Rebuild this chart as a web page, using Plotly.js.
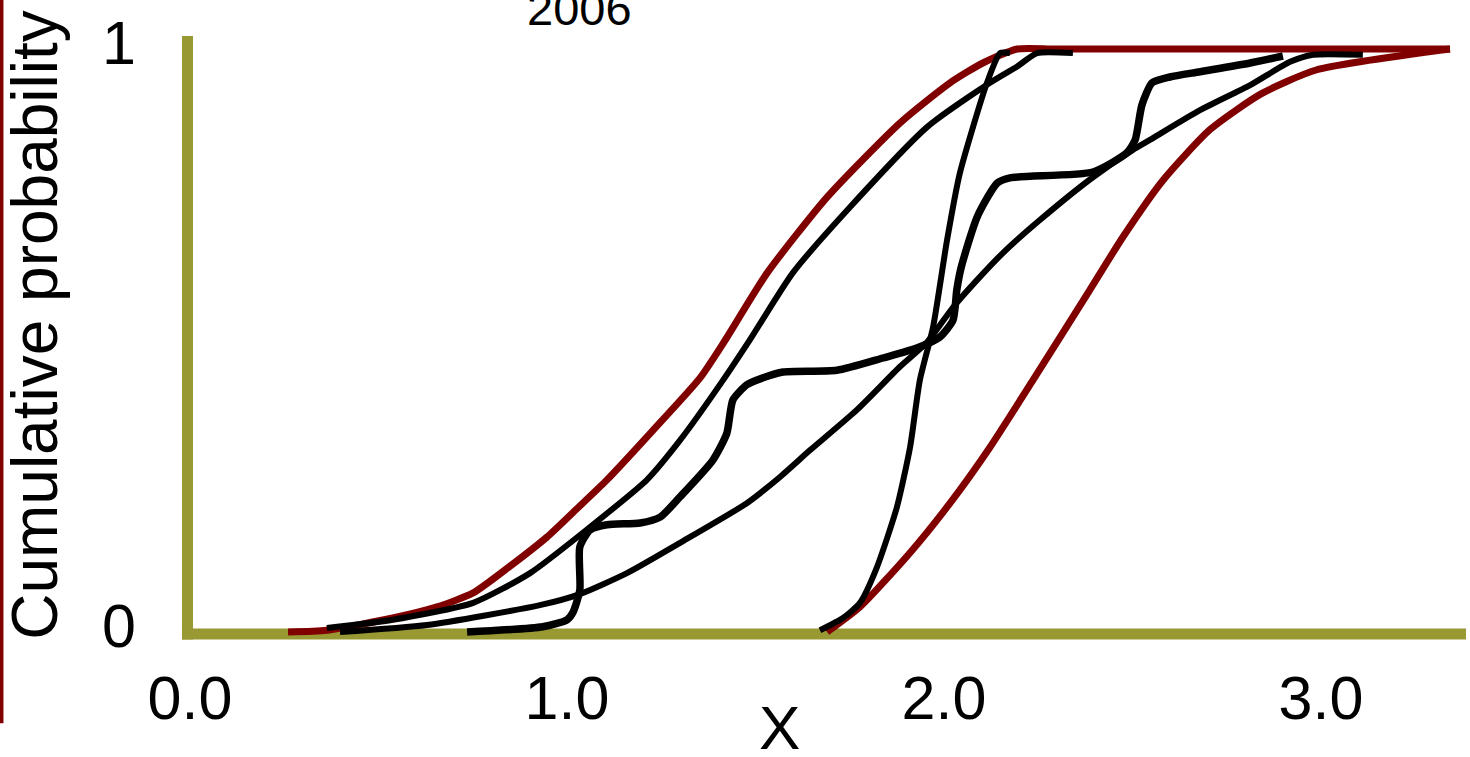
<!DOCTYPE html>
<html>
<head>
<meta charset="utf-8">
<script src="https://cdn.plot.ly/plotly-3.0.1.min.js"></script>
<style>
  html, body { margin: 0; padding: 0; background: #ffffff; }
  #chart { width: 1470px; height: 757px; }
</style>
</head>
<body>
<div id="chart"></div>
<script>
// Outer envelope (dark red): left bound and right bound, joined by a flat top at 1
const envLeftX  = [0.260, 0.363, 0.538, 0.655, 0.751, 0.849, 0.947, 1.027, 1.106, 1.228, 1.353, 1.419, 1.531, 1.690, 1.883, 2.016, 2.103, 2.194, 2.300, 3.342];
const envLeftY  = [0.000, 0.003, 0.024, 0.043, 0.067, 0.113, 0.163, 0.212, 0.261, 0.346, 0.436, 0.500, 0.616, 0.746, 0.873, 0.942, 0.976, 1.000, 1.000, 1.000];

const envRightX = [1.690, 1.777, 1.910, 2.016, 2.122, 2.236, 2.387, 2.475, 2.581, 2.706, 2.841, 2.987, 3.342];
const envRightY = [0.000, 0.043, 0.136, 0.221, 0.317, 0.432, 0.587, 0.678, 0.775, 0.862, 0.923, 0.964, 1.000];

// Individual cumulative curves (black)
const cdfAX = [0.363, 0.538, 0.751, 0.902, 1.061, 1.212, 1.300, 1.414, 1.485, 1.599, 1.751, 1.955, 2.122, 2.194, 2.247, 2.342];
const cdfAY = [0.007, 0.021, 0.050, 0.101, 0.180, 0.261, 0.329, 0.432, 0.501, 0.616, 0.729, 0.866, 0.942, 0.970, 0.993, 0.993];

const cdfBX = [0.735, 0.936, 1.000, 1.016, 1.034, 1.034, 1.061, 1.106, 1.194, 1.247, 1.300, 1.387, 1.424, 1.440, 1.477, 1.520, 1.573, 1.716, 1.838, 1.928, 1.989, 2.024, 2.034, 2.045, 2.088, 2.141, 2.175, 2.395, 2.485, 2.507, 2.525, 2.552, 2.599, 2.679, 2.812, 2.899];
const cdfBY = [0.000, 0.009, 0.021, 0.034, 0.072, 0.146, 0.175, 0.184, 0.187, 0.197, 0.232, 0.295, 0.341, 0.398, 0.424, 0.436, 0.446, 0.449, 0.470, 0.487, 0.506, 0.535, 0.587, 0.624, 0.712, 0.770, 0.779, 0.789, 0.822, 0.844, 0.904, 0.942, 0.952, 0.961, 0.976, 0.988];

const cdfCX = [0.398, 0.629, 0.928, 1.034, 1.159, 1.300, 1.477, 1.565, 1.645, 1.769, 1.883, 1.955, 2.024, 2.088, 2.156, 2.255, 2.395, 2.501, 2.546, 2.679, 2.812, 2.918, 2.979, 3.111];
const cdfCY = [0.000, 0.012, 0.046, 0.065, 0.101, 0.153, 0.221, 0.266, 0.312, 0.381, 0.455, 0.497, 0.557, 0.604, 0.650, 0.707, 0.780, 0.827, 0.844, 0.895, 0.938, 0.978, 0.990, 0.990];

const cdfDX = [1.671, 1.732, 1.777, 1.822, 1.875, 1.910, 1.936, 1.971, 2.008, 2.042, 2.114, 2.149, 2.175];
const cdfDY = [0.003, 0.024, 0.050, 0.111, 0.214, 0.317, 0.432, 0.523, 0.672, 0.787, 0.942, 0.993, 0.993];

// Tick labels
const xTickVals = [0, 1, 2, 3];
const xTickText = ['0.0', '1.0', '2.0', '3.0'];
const yTickVals = [0, 1];
const yTickText = ['0', '1'];

const titleText = '2006';
const xTitleText = 'X';
const yTitleText = 'Cumulative probability';

const RED = '#800000';
const OLIVE = '#999933';
const FONT = '"Liberation Sans", Arial, Helvetica, sans-serif';

function curve(x, y, color, width, smoothing) {
  return {
    type: 'scatter', mode: 'lines', x: x, y: y,
    line: { color: color, width: width, shape: 'spline', smoothing: smoothing },
    hoverinfo: 'skip', showlegend: false
  };
}

const traces = [
  curve(envLeftX, envLeftY, RED, 7, 0.6),
  curve(envRightX, envRightY, RED, 7, 0.6),
  curve(cdfAX, cdfAY, '#000000', 6, 0.6),
  curve(cdfCX, cdfCY, '#000000', 6, 0.6),
  curve(cdfDX, cdfDY, '#000000', 6, 0.6),
  curve(cdfBX, cdfBY, '#000000', 7.5, 0.6)
];

const layout = {
  width: 1470, height: 757,
  margin: { l: 190, r: 6, t: 37, b: 118 },
  paper_bgcolor: '#ffffff', plot_bgcolor: '#ffffff',
  font: { family: FONT, color: '#000000', size: 61 },
  showlegend: false,
  xaxis: {
    range: [0, 3.3793], fixedrange: true,
    showgrid: false, zeroline: false, showline: false,
    tickmode: 'array', tickvals: xTickVals, ticktext: xTickText,
    ticks: '', ticklabelstandoff: 18,
    tickfont: { family: FONT, size: 61, color: '#000000' }
  },
  yaxis: {
    range: [-0.012, 1.0206], fixedrange: true,
    showgrid: false, zeroline: false, showline: false,
    tickmode: 'array', tickvals: yTickVals, ticktext: yTickText,
    ticks: '', ticklabelstandoff: 53, ticklabelshift: -6,
    tickfont: { family: FONT, size: 61, color: '#000000' }
  },
  shapes: [
    // axis lines
    { type: 'line', xref: 'paper', yref: 'paper', x0: -0.0063, x1: 1.0016, y0: 0.0083, y1: 0.0083,
      line: { color: OLIVE, width: 11 }, layer: 'below' },
    { type: 'line', xref: 'paper', yref: 'paper', x0: -0.00196, x1: -0.00196, y0: -0.0008, y1: 1.0017,
      line: { color: OLIVE, width: 11 }, layer: 'below' },
    // thin dark red rule at the left edge
    { type: 'line', xref: 'paper', yref: 'paper', x0: -0.1478, x1: -0.1478, y0: -0.14, y1: 1.07,
      line: { color: RED, width: 3.5 } }
  ],
  annotations: [
    { text: titleText, xref: 'paper', yref: 'paper', x: 0.306, y: 1.0474,
      xanchor: 'center', yanchor: 'middle', showarrow: false,
      font: { family: FONT, size: 47, color: '#000000' } },
    { text: xTitleText, xref: 'paper', yref: 'paper', x: 0.4631, y: -0.1462,
      xanchor: 'center', yanchor: 'middle', showarrow: false,
      font: { family: FONT, size: 62, color: '#000000' } },
    { text: yTitleText, xref: 'paper', yref: 'paper', x: -0.1218, y: 0.5216,
      xanchor: 'center', yanchor: 'middle', showarrow: false, textangle: -90,
      font: { family: FONT, size: 64, color: '#000000' } }
  ]
};

Plotly.newPlot('chart', traces, layout, { displayModeBar: false, staticPlot: true });
</script>
</body>
</html>
